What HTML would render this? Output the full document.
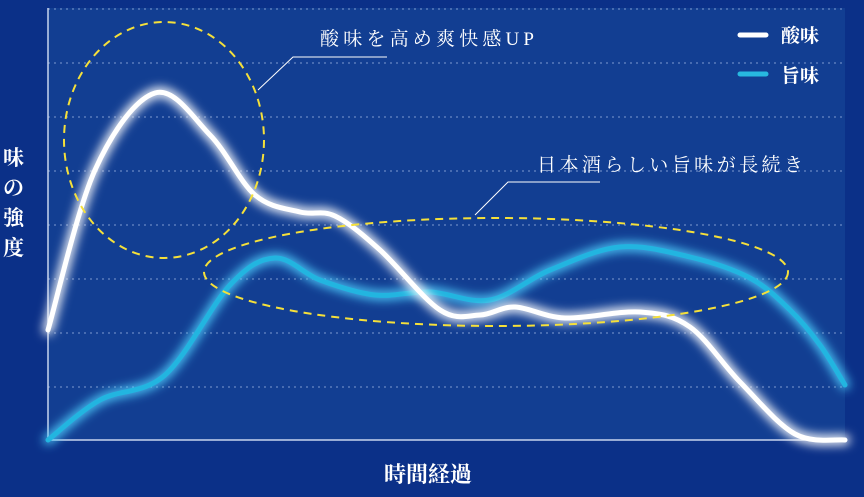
<!DOCTYPE html>
<html><head><meta charset="utf-8"><style>
html,body{margin:0;padding:0;background:#0b3088;}
svg{display:block}
text{font-family:"Liberation Serif","Noto Serif CJK SC",serif;font-weight:bold;fill:#fff}
.lb{font-weight:normal}
</style></head><body>
<svg id="s" width="864" height="497" viewBox="0 0 864 497" xmlns="http://www.w3.org/2000/svg">
<defs>
<filter id="g" x="-20%" y="-20%" width="140%" height="140%"><feGaussianBlur stdDeviation="5"/></filter>
</defs>
<rect width="864" height="497" fill="#0b3088"/>
<rect x="48" y="8" width="797" height="432" fill="#123e92"/>
<g stroke="#7f9bd0" stroke-width="1" stroke-dasharray="2,4">
<line x1="48" y1="9" x2="845" y2="9"/><line x1="48" y1="63" x2="845" y2="63"/>
<line x1="48" y1="117" x2="845" y2="117"/><line x1="48" y1="171" x2="845" y2="171"/>
<line x1="48" y1="225" x2="845" y2="225"/><line x1="48" y1="279" x2="845" y2="279"/>
<line x1="48" y1="333" x2="845" y2="333"/><line x1="48" y1="387" x2="845" y2="387"/>
</g>
<line x1="48" y1="8" x2="48" y2="440" stroke="#c8d4ee" stroke-width="1.5"/>
<line x1="48" y1="440" x2="845" y2="440" stroke="#c8d4ee" stroke-width="1.5"/>
<g id="curves"></g>
<ellipse cx="164" cy="140" rx="100" ry="118" fill="none" stroke="#f5e03a" stroke-width="2" stroke-dasharray="8,6"/>
<ellipse cx="496" cy="272" rx="292" ry="54" fill="none" stroke="#f5e03a" stroke-width="2" stroke-dasharray="8,6"/>
<polyline points="258,90 293,57 387,57" fill="none" stroke="#fff" stroke-width="1"/>
<polyline points="475,215 508,182 600,182" fill="none" stroke="#fff" stroke-width="1"/>
<text class="lb" x="320" y="45" font-size="19" textLength="214" lengthAdjust="spacing">酸味を高め爽快感UP</text>
<text class="lb" x="537" y="171" font-size="19" textLength="266" lengthAdjust="spacing">日本酒らしい旨味が長続き</text>
<g filter="url(#g)"><line x1="740" y1="35" x2="766" y2="35" stroke="#fff" stroke-width="7" stroke-linecap="round"/></g>
<line x1="740" y1="35" x2="766" y2="35" stroke="#fff" stroke-width="5" stroke-linecap="round"/>
<line x1="740" y1="74" x2="766" y2="74" stroke="#27b8e0" stroke-width="5" stroke-linecap="round"/>
<text x="781" y="42" font-size="19">酸味</text>
<text x="781" y="82" font-size="19">旨味</text>
<text x="3" y="165" font-size="21">味</text>
<text x="3" y="195" font-size="21">の</text>
<text x="3" y="225" font-size="21">強</text>
<text x="3" y="255" font-size="21">度</text>
<text x="384" y="482" font-size="22">時間経過</text>
</svg>
<script>
function cr(p){let d="M"+p[0][0]+","+p[0][1];for(let i=0;i<p.length-1;i++){const a=p[i-1]||p[i],b=p[i],c=p[i+1],e=p[i+2]||c;d+=" C"+(b[0]+(c[0]-a[0])/6)+","+(b[1]+(c[1]-a[1])/6)+" "+(c[0]-(e[0]-b[0])/6)+","+(c[1]-(e[1]-b[1])/6)+" "+c[0]+","+c[1];}return d;}
const w=[[48,330],[95,170],[155,93],[210,135],[255,195],[300,212],[335,216],[380,250],[440,310],[480,315],[515,307],[565,318],[640,312],[690,327],[740,382],[795,434],[845,440]];
const c=[[48,440],[100,400],[165,375],[230,285],[275,258],[320,280],[375,295],[430,292],[490,300],[550,270],[620,247],[690,257],[750,278],[790,310],[820,345],[845,385]];
const g=document.getElementById("curves"),ns="http://www.w3.org/2000/svg";
function add(d,col,sw,f){const p=document.createElementNS(ns,"path");p.setAttribute("d",d);p.setAttribute("fill","none");p.setAttribute("stroke",col);p.setAttribute("stroke-width",sw);p.setAttribute("stroke-linecap","round");if(f)p.setAttribute("filter","url(#g)");g.appendChild(p);}
add(cr(c),"#4fd0ff",9,1);add(cr(c),"#22b5e0",5);
add(cr(w),"#ffffff",10,1);add(cr(w),"#ffffff",5);
</script>
</body></html>
